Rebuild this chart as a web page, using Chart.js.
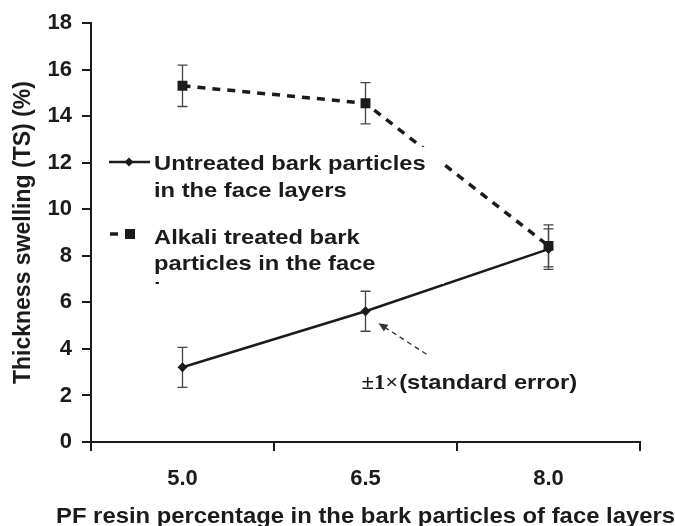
<!DOCTYPE html>
<html>
<head>
<meta charset="utf-8">
<script src="https://cdn.jsdelivr.net/npm/chart.js@4.4.1/dist/chart.umd.min.js"></script>
<style>
  html, body { margin: 0; padding: 0; background: #ffffff; }
  #wrap { width: 675px; height: 526px; }
</style>
</head>
<body>
<div id="wrap"><canvas id="c" width="675" height="526"></canvas></div>
<script>
// ---- data ----
const categories = ['5.0', '6.5', '8.0'];
const untreatedTS = [3.21, 5.62, 8.29];
const untreatedSE = [0.86, 0.86, 0.87];
const alkaliTS = [15.31, 14.56, 8.43];
const alkaliSE = [0.89, 0.89, 0.90];
const yTickMin = 0, yTickMax = 18, yTickStep = 2;

const legendLines = [
  ['Untreated bark particles', 'in the face layers'],
  ['Alkali treated bark', 'particles in the face', 'layers']
];
const xTitle = 'PF resin percentage in the bark particles of face layers';
const yTitle = 'Thickness swelling (TS) (%)';
const noteSymbol = '\u00B11\u00D7';
const noteText = '(standard error)';

const FONT = "'Liberation Sans', Arial, Helvetica, sans-serif";
const SERIF = "'Liberation Serif', 'Times New Roman', serif";
const INK = '#1b1b1b';

// draws text horizontally widened (the reference figure is stretched sideways)
function wideText(ctx, text, x, y, sx) {
  ctx.save();
  ctx.translate(x, y);
  ctx.scale(sx, 1);
  ctx.fillText(text, 0, 0);
  ctx.restore();
  return ctx.measureText(text).width * sx;
}

const errorBars = {
  id: 'errorBars',
  beforeDatasetsDraw(chart) {
    const ctx = chart.ctx, y = chart.scales.y;
    const errs = [untreatedSE, alkaliSE];
    ctx.save();
    ctx.strokeStyle = '#444';
    ctx.lineWidth = 1.3;
    chart.data.datasets.forEach((ds, di) => {
      const meta = chart.getDatasetMeta(di);
      meta.data.forEach((pt, i) => {
        const v = ds.data[i], e = errs[di][i];
        const yt = y.getPixelForValue(v + e), yb = y.getPixelForValue(v - e);
        ctx.beginPath();
        ctx.moveTo(pt.x, yt); ctx.lineTo(pt.x, yb);
        ctx.moveTo(pt.x - 5, yt); ctx.lineTo(pt.x + 5, yt);
        ctx.moveTo(pt.x - 5, yb); ctx.lineTo(pt.x + 5, yb);
        ctx.stroke();
      });
    });
    ctx.restore();
  }
};

const overlay = {
  id: 'overlay',
  afterDraw(chart) {
    const ctx = chart.ctx;
    const area = chart.chartArea;

    // x axis title (slightly widened)
    ctx.save();
    ctx.fillStyle = INK;
    ctx.font = 'bold 22px ' + FONT;
    ctx.textBaseline = 'alphabetic';
    ctx.textAlign = 'left';
    const sxTitle = 1.084;
    const wT = ctx.measureText(xTitle).width * sxTitle;
    wideText(ctx, xTitle, (area.left + area.right) / 2 - wT / 2, 523, sxTitle);
    ctx.restore();

    // legend box (white, clips its text)
    ctx.save();
    const bx = 100, by = 147, bw = 344, bh = 137;
    ctx.fillStyle = '#ffffff';
    ctx.fillRect(bx, by, bw, bh);
    ctx.beginPath(); ctx.rect(bx, by, bw, bh); ctx.clip();

    ctx.fillStyle = INK; ctx.strokeStyle = INK;
    ctx.font = 'bold 21px ' + FONT;
    ctx.textBaseline = 'alphabetic';
    ctx.textAlign = 'left';
    const lh = 27, sx = 1.13;
    // item 1: solid line with diamond
    const y1 = 162;
    ctx.lineWidth = 2.5;
    ctx.beginPath(); ctx.moveTo(109, y1); ctx.lineTo(150, y1); ctx.stroke();
    ctx.beginPath();
    ctx.moveTo(129 - 4.5, y1); ctx.lineTo(129, y1 - 4.5); ctx.lineTo(129 + 4.5, y1); ctx.lineTo(129, y1 + 4.5);
    ctx.closePath(); ctx.fill();
    legendLines[0].forEach((t, k) => wideText(ctx, t, 154, 170 + k * lh, sx));
    // item 2: dashed line with square
    const y2 = 234;
    ctx.lineWidth = 3.5;
    ctx.beginPath(); ctx.moveTo(110, y2); ctx.lineTo(118, y2); ctx.stroke();
    ctx.fillRect(125, y2 - 5, 10, 10);
    legendLines[1].forEach((t, k) => wideText(ctx, t, 154, 243.5 + k * 26.5, sx));
    ctx.restore();

    // annotation with dashed arrow, anchored to the 6.5 untreated point
    const pt = chart.getDatasetMeta(0).data[1];
    const tipX = pt.x + 13, tipY = pt.y + 12;
    const tailX = pt.x + 61, tailY = pt.y + 43;
    ctx.save();
    ctx.strokeStyle = '#333'; ctx.fillStyle = '#333';
    ctx.lineWidth = 1.4;
    ctx.setLineDash([5, 4]);
    const ang = Math.atan2(tipY - tailY, tipX - tailX);
    ctx.beginPath();
    ctx.moveTo(tailX, tailY);
    ctx.lineTo(tipX - 7 * Math.cos(ang), tipY - 7 * Math.sin(ang));
    ctx.stroke();
    ctx.setLineDash([]);
    ctx.beginPath();
    ctx.moveTo(tipX, tipY);
    ctx.lineTo(tipX - 9 * Math.cos(ang) + 4 * Math.sin(ang), tipY - 9 * Math.sin(ang) - 4 * Math.cos(ang));
    ctx.lineTo(tipX - 9 * Math.cos(ang) - 4 * Math.sin(ang), tipY - 9 * Math.sin(ang) + 4 * Math.cos(ang));
    ctx.closePath(); ctx.fill();

    ctx.fillStyle = INK;
    ctx.textBaseline = 'alphabetic';
    ctx.textAlign = 'left';
    let tx = pt.x - 4;
    const ty = pt.y + 78;
    ctx.font = 'bold 21px ' + SERIF;
    tx += wideText(ctx, noteSymbol, tx, ty, 1.08) + 1;
    ctx.font = 'bold 21px ' + FONT;
    wideText(ctx, noteText, tx, ty, 1.13);
    ctx.restore();
  }
};

new Chart(document.getElementById('c'), {
  type: 'line',
  data: {
    labels: categories,
    datasets: [
      {
        label: legendLines[0].join(' '),
        data: untreatedTS,
        borderColor: INK, backgroundColor: INK,
        borderWidth: 2.5,
        pointStyle: 'rectRot', pointRadius: 5, pointBorderWidth: 0,
        tension: 0
      },
      {
        label: legendLines[1].join(' '),
        data: alkaliTS,
        borderColor: INK, backgroundColor: INK,
        borderWidth: 3.5, borderDash: [8, 7],
        pointStyle: 'rect', pointRadius: 7, pointBorderWidth: 0,
        tension: 0
      }
    ]
  },
  options: {
    responsive: false,
    animation: false,
    layout: { padding: { top: 23, right: 35, left: 0, bottom: 0 } },
    plugins: { legend: { display: false }, tooltip: { enabled: false } },
    scales: {
      x: {
        type: 'category',
        offset: true,
        grid: { offset: true, drawOnChartArea: false, drawTicks: true, tickLength: 9, color: INK, lineWidth: 2 },
        border: { color: INK, width: 2 },
        ticks: { color: INK, font: { family: FONT, size: 22, weight: 'bold' }, padding: 15 },
        title: { display: false, text: xTitle },
        afterFit(s) { s.height = 84; }
      },
      y: {
        min: yTickMin, max: yTickMax,
        ticks: { stepSize: yTickStep, color: INK, font: { family: FONT, size: 22, weight: 'bold' }, padding: 10 },
        grid: { drawOnChartArea: false, drawTicks: true, tickLength: 9, color: INK, lineWidth: 2 },
        border: { color: INK, width: 2 },
        title: { display: true, text: yTitle, color: INK, font: { family: FONT, size: 23, weight: 'bold', lineHeight: 1.2 }, padding: { top: 10, bottom: 0 } },
        afterFit(s) { s.width = 91; }
      }
    }
  },
  plugins: [errorBars, overlay]
});
</script>
</body>
</html>
